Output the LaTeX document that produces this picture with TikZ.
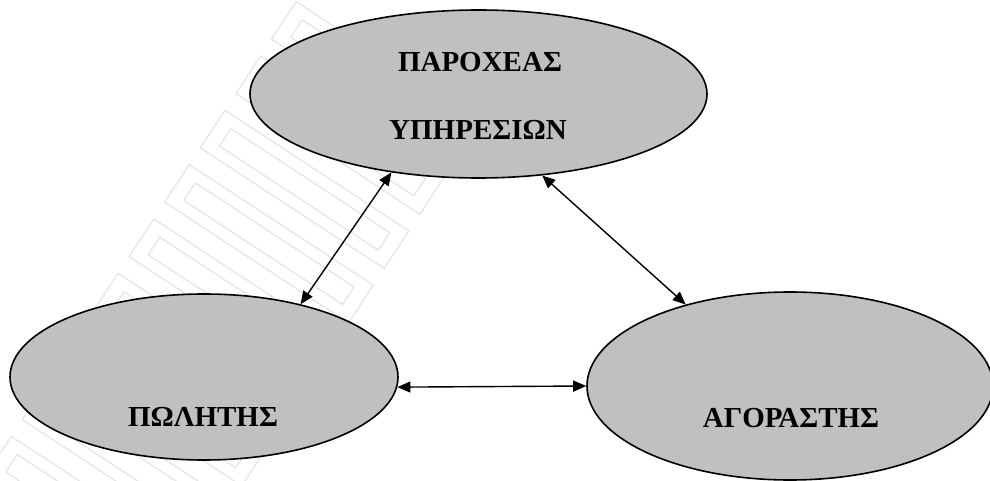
\documentclass[tikz,border=0pt]{standalone}
\usepackage{fontspec}
\setmainfont{Liberation Serif}
\usetikzlibrary{shapes.geometric,arrows.meta}
\definecolor{silver}{RGB}{192,192,192}
\begin{document}
\begin{tikzpicture}[x=1pt,y=-1pt,
  party/.style={ellipse,draw=black,line width=1.6pt,fill=silver,inner sep=0pt},
  lbl/.style={font=\fontsize{29}{32}\selectfont\bfseries,inner sep=0pt},
  link/.style={{Triangle[length=13pt,width=11pt]}-{Triangle[length=13pt,width=11pt]},line width=1.4pt},
  wm/.style={draw=gray!20,line width=1.2pt}]
\useasboundingbox[fill=white] (0,0) rectangle (990,481);

% faint background band of nested frames
\begin{scope}[shift={(-30,481)},x={(0.836pt,-0.548pt)},y={(0.548pt,0.836pt)}]
  \foreach \v in {15,80,...,540}{
    \draw[wm] (10,\v) -- (230,\v) -- (230,\v+45) -- (10,\v+45) -- cycle;
    \draw[wm] (25,\v+12) -- (215,\v+12) -- (215,\v+33) -- (25,\v+33) -- cycle;
  }
\end{scope}

% the three parties
\node[party,minimum width=457pt,minimum height=168pt] (prov) at (478.5,94) {};
\node[party,minimum width=388pt,minimum height=166pt] (sell) at (204,377) {};
\node[party,minimum width=406pt,minimum height=188pt] (buy) at (790,386) {};

\node[lbl] (provA) at (480,62) {ΠΑΡΟΧΕΑΣ};
\node[lbl] (provB) at (478,130) {ΥΠΗΡΕΣΙΩΝ};
\node[lbl] (sellT) at (203,417) {ΠΩΛΗΤΗΣ};
\node[lbl] (buyT) at (791,418) {ΑΓΟΡΑΣΤΗΣ};

% two-way links
\draw[link] (prov.222.7) -- (sell.37);
\draw[link] (prov.308.4) -- (buy.142);
\draw[link] (sell.-3.3) -- (buy.180.6);
\end{tikzpicture}
\end{document}
